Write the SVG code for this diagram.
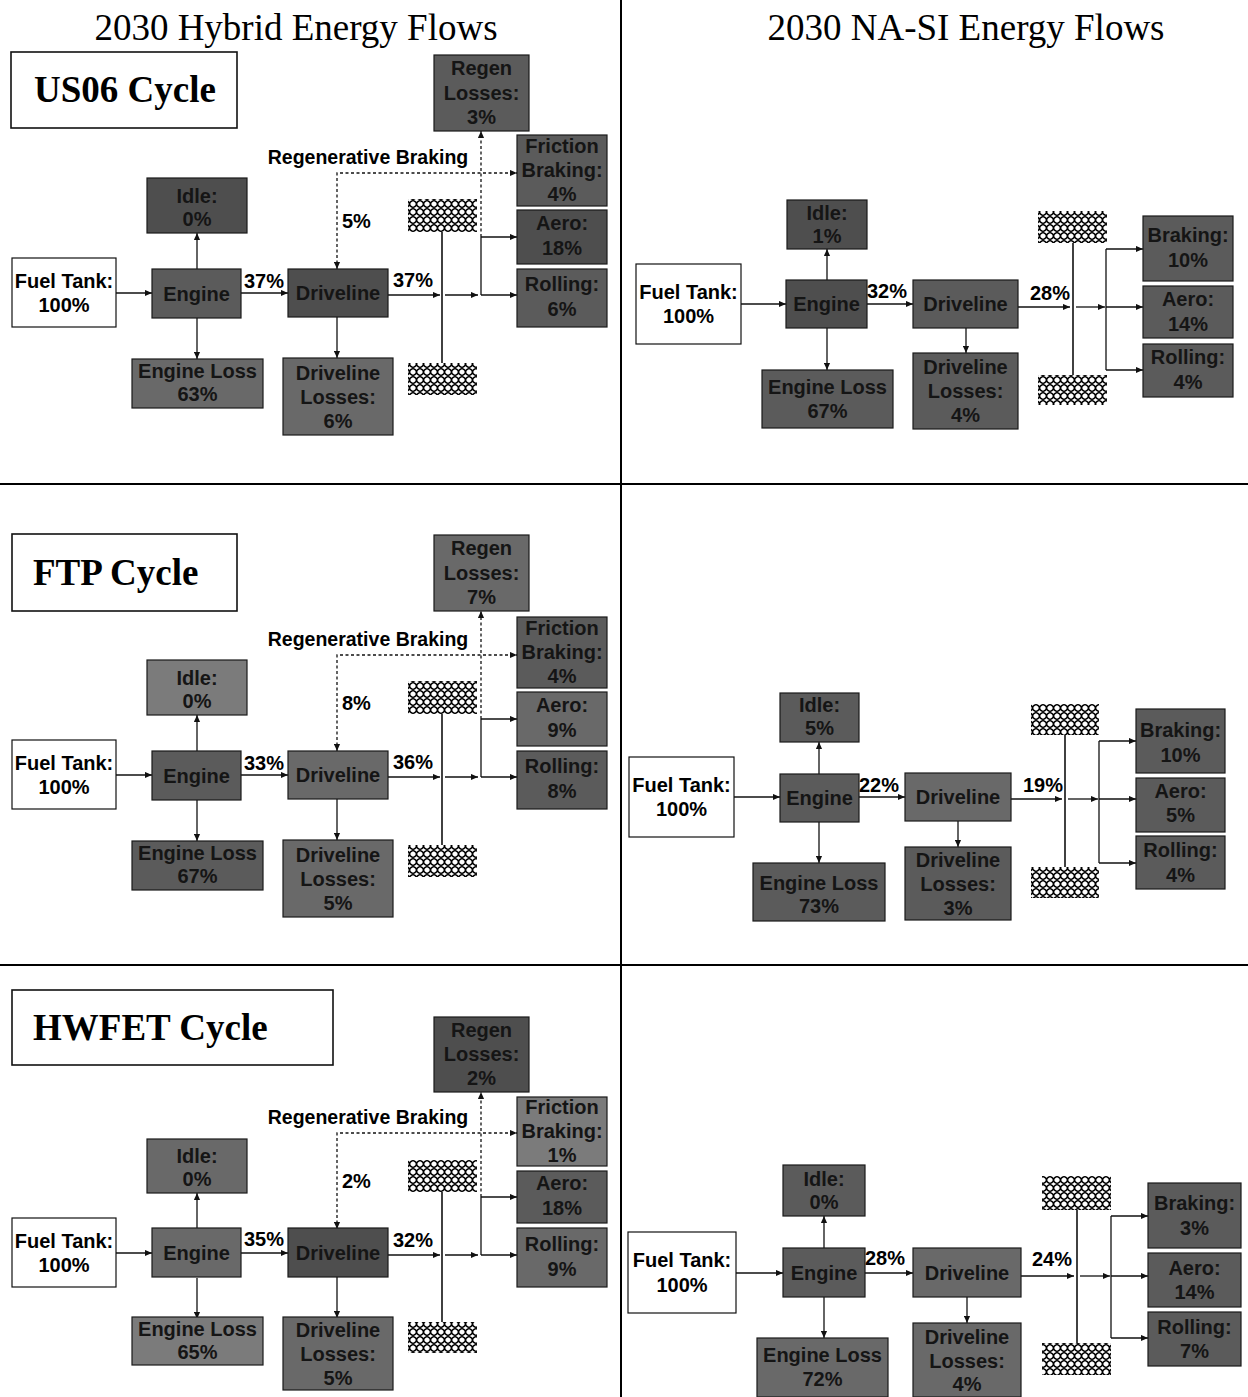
<svg xmlns="http://www.w3.org/2000/svg" width="1248" height="1397" viewBox="0 0 1248 1397">
<defs>
<style>
.title{font-family:"Liberation Serif","Times New Roman",serif;font-size:37px;fill:#000}
.cyc{font-family:"Liberation Serif","Times New Roman",serif;font-size:37px;font-weight:bold;fill:#000}
.cbox{fill:#fff;stroke:#111;stroke-width:1.6}
.wbox{fill:#fff;stroke:#111;stroke-width:1.2}
.b{stroke:#1a1a1a;stroke-width:1.2}
.g1{fill:#4e4e4e}.g2{fill:#5b5b5b}.g3{fill:#696969}.g4{fill:#7b7b7b}
.bt{font-family:"Liberation Sans",Arial,sans-serif;font-size:20px;font-weight:bold;fill:#151515;text-anchor:middle}
.lt{font-family:"Liberation Sans",Arial,sans-serif;font-size:20px;font-weight:bold;fill:#000;text-anchor:middle}
.rb{font-family:"Liberation Sans",Arial,sans-serif;font-size:19.5px;font-weight:bold;fill:#000;text-anchor:middle}
.ln{fill:none;stroke:#111;stroke-width:1.3}
.arr{marker-end:url(#ah)}
.dash{stroke-dasharray:3 2.5}
.ax{fill:none;stroke:#111;stroke-width:1.6}
.wheel{fill:url(#wave)}
.div{stroke:#000;stroke-width:2}
</style>
<marker id="ah" viewBox="0 0 8 8" refX="8" refY="4" markerWidth="7" markerHeight="7" markerUnits="userSpaceOnUse" orient="auto-start-reverse"><path d="M0,0.5 L8,4 L0,7.5z" fill="#111"/></marker>
<pattern id="wave" width="7" height="8" patternUnits="userSpaceOnUse">
<rect width="7" height="8" fill="#fff"/>
<path d="M0,0.5 Q3.5,2 3.5,4 T7,7.5 M7,0.5 Q3.5,2 3.5,4 T0,7.5" fill="none" stroke="#000" stroke-width="1.5"/>
</pattern>
</defs>
<rect width="1248" height="1397" fill="#fff"/>

<g id="dividers">
<line class="div" x1="621" y1="0" x2="621" y2="1397"/>
<line class="div" x1="0" y1="484" x2="1248" y2="484"/>
<line class="div" x1="0" y1="965" x2="1248" y2="965"/>
</g>

<g id="titles">
<text class="title" x="296" y="40" text-anchor="middle">2030 Hybrid Energy Flows</text>
<text class="title" x="966" y="40" text-anchor="middle">2030 NA-SI Energy Flows</text>
</g>

<g id="cycle-labels">
<g id="cyc-us06"><rect class="cbox" x="11" y="52" width="226" height="76"/><text class="cyc" x="34" y="102">US06 Cycle</text></g>
<g id="cyc-ftp"><rect class="cbox" x="12" y="534" width="225" height="77"/><text class="cyc" x="33" y="585">FTP Cycle</text></g>
<g id="cyc-hwfet"><rect class="cbox" x="12" y="990" width="321" height="75"/><text class="cyc" x="33" y="1040">HWFET Cycle</text></g>
</g>

<!-- ===== Hybrid US06 ===== -->
<g id="hyb-us06">
<g id="h1-connectors">
<path class="ln arr" d="M116,293 H152"/>
<path class="ln arr" d="M197,269 V233"/>
<path class="ln arr" d="M197,318 V359"/>
<path class="ln arr" d="M241,293 H288"/>
<path class="ln arr" d="M337,317 V358"/>
<path class="ln arr" d="M388,295 H440"/>
<path class="ax" d="M442,232 V363"/>
<path class="ln arr" d="M445,295 H478"/>
<path class="ln" d="M481,237 V295"/>
<path class="ln arr" d="M481,237 H517"/>
<path class="ln arr" d="M481,295 H517"/>
<path class="ln arr dash" d="M481,237 V131"/>
<path class="ln arr dash" d="M337,269 V173 H517" marker-start="url(#ah)"/>
</g>
<g id="h1-fuel"><rect class="wbox" x="12" y="258" width="104" height="69"/><text class="lt" x="64" y="288">Fuel Tank:</text><text class="lt" x="64" y="312">100%</text></g>
<g id="h1-idle"><rect class="b g1" x="147" y="178" width="100" height="55"/><text class="bt" x="197" y="203">Idle:</text><text class="bt" x="197" y="226">0%</text></g>
<g id="h1-engine"><rect class="b g2" x="152" y="269" width="89" height="49"/><text class="bt" x="196.5" y="301">Engine</text></g>
<g id="h1-eloss"><rect class="b g3" x="132" y="359" width="131" height="49"/><text class="bt" x="197.5" y="378">Engine Loss</text><text class="bt" x="197.5" y="401">63%</text></g>
<g id="h1-driveline"><rect class="b g1" x="288" y="269" width="100" height="48"/><text class="bt" x="338" y="300">Driveline</text></g>
<g id="h1-dloss"><rect class="b g3" x="283" y="358" width="110" height="77"/><text class="bt" x="338" y="380">Driveline</text><text class="bt" x="338" y="404">Losses:</text><text class="bt" x="338" y="428">6%</text></g>
<g id="h1-regen"><rect class="b g2" x="434" y="55" width="95" height="76"/><text class="bt" x="481.5" y="75">Regen</text><text class="bt" x="481.5" y="100">Losses:</text><text class="bt" x="481.5" y="124">3%</text></g>
<g id="h1-friction"><rect class="b g2" x="517" y="135" width="90" height="71"/><text class="bt" x="562" y="153">Friction</text><text class="bt" x="562" y="177">Braking:</text><text class="bt" x="562" y="201">4%</text></g>
<g id="h1-aero"><rect class="b g1" x="517" y="210" width="90" height="54"/><text class="bt" x="562" y="230">Aero:</text><text class="bt" x="562" y="255">18%</text></g>
<g id="h1-rolling"><rect class="b g2" x="517" y="269" width="90" height="58"/><text class="bt" x="562" y="291">Rolling:</text><text class="bt" x="562" y="316">6%</text></g>
<g id="h1-wheels"><rect class="wheel" x="408" y="199" width="69" height="33"/><rect class="wheel" x="408" y="363" width="69" height="32"/></g>
<g id="h1-labels"><text class="lt" x="264" y="288">37%</text><text class="lt" x="413" y="287">37%</text><text class="lt" x="342" y="228" style="text-anchor:start">5%</text><text class="rb" x="368" y="164">Regenerative Braking</text></g>
</g>

<!-- ===== Hybrid FTP ===== -->
<g id="hyb-ftp" transform="translate(0,482)">
<g id="h2-connectors">
<path class="ln arr" d="M116,293 H152"/>
<path class="ln arr" d="M197,269 V233"/>
<path class="ln arr" d="M197,318 V359"/>
<path class="ln arr" d="M241,293 H288"/>
<path class="ln arr" d="M337,317 V358"/>
<path class="ln arr" d="M388,295 H440"/>
<path class="ax" d="M442,232 V363"/>
<path class="ln arr" d="M445,295 H478"/>
<path class="ln" d="M481,237 V295"/>
<path class="ln arr" d="M481,237 H517"/>
<path class="ln arr" d="M481,295 H517"/>
<path class="ln arr dash" d="M481,237 V129"/>
<path class="ln arr dash" d="M337,269 V173 H517" marker-start="url(#ah)"/>
</g>
<g id="h2-fuel"><rect class="wbox" x="12" y="258" width="104" height="69"/><text class="lt" x="64" y="288">Fuel Tank:</text><text class="lt" x="64" y="312">100%</text></g>
<g id="h2-idle"><rect class="b g4" x="147" y="178" width="100" height="55"/><text class="bt" x="197" y="203">Idle:</text><text class="bt" x="197" y="226">0%</text></g>
<g id="h2-engine"><rect class="b g2" x="152" y="269" width="89" height="49"/><text class="bt" x="196.5" y="301">Engine</text></g>
<g id="h2-eloss"><rect class="b g2" x="132" y="359" width="131" height="49"/><text class="bt" x="197.5" y="378">Engine Loss</text><text class="bt" x="197.5" y="401">67%</text></g>
<g id="h2-driveline"><rect class="b g3" x="288" y="269" width="100" height="48"/><text class="bt" x="338" y="300">Driveline</text></g>
<g id="h2-dloss"><rect class="b g3" x="283" y="358" width="110" height="77"/><text class="bt" x="338" y="380">Driveline</text><text class="bt" x="338" y="404">Losses:</text><text class="bt" x="338" y="428">5%</text></g>
<g id="h2-regen"><rect class="b g3" x="434" y="53" width="95" height="76"/><text class="bt" x="481.5" y="73">Regen</text><text class="bt" x="481.5" y="98">Losses:</text><text class="bt" x="481.5" y="122">7%</text></g>
<g id="h2-friction"><rect class="b g2" x="517" y="135" width="90" height="71"/><text class="bt" x="562" y="153">Friction</text><text class="bt" x="562" y="177">Braking:</text><text class="bt" x="562" y="201">4%</text></g>
<g id="h2-aero"><rect class="b g3" x="517" y="210" width="90" height="54"/><text class="bt" x="562" y="230">Aero:</text><text class="bt" x="562" y="255">9%</text></g>
<g id="h2-rolling"><rect class="b g2" x="517" y="269" width="90" height="58"/><text class="bt" x="562" y="291">Rolling:</text><text class="bt" x="562" y="316">8%</text></g>
<g id="h2-wheels"><rect class="wheel" x="408" y="199" width="69" height="33"/><rect class="wheel" x="408" y="363" width="69" height="32"/></g>
<g id="h2-labels"><text class="lt" x="264" y="288">33%</text><text class="lt" x="413" y="287">36%</text><text class="lt" x="342" y="228" style="text-anchor:start">8%</text><text class="rb" x="368" y="164">Regenerative Braking</text></g>
</g>

<!-- ===== Hybrid HWFET ===== -->
<g id="hyb-hwfet" transform="translate(0,960)">
<g id="h3-connectors">
<path class="ln arr" d="M116,293 H152"/>
<path class="ln arr" d="M197,269 V233"/>
<path class="ln arr" d="M197,318 V359"/>
<path class="ln arr" d="M241,293 H288"/>
<path class="ln arr" d="M337,317 V358"/>
<path class="ln arr" d="M388,295 H440"/>
<path class="ax" d="M442,232 V363"/>
<path class="ln arr" d="M445,295 H478"/>
<path class="ln" d="M481,237 V295"/>
<path class="ln arr" d="M481,237 H517"/>
<path class="ln arr" d="M481,295 H517"/>
<path class="ln arr dash" d="M481,237 V132"/>
<path class="ln arr dash" d="M337,269 V173 H517" marker-start="url(#ah)"/>
</g>
<g id="h3-fuel"><rect class="wbox" x="12" y="258" width="104" height="69"/><text class="lt" x="64" y="288">Fuel Tank:</text><text class="lt" x="64" y="312">100%</text></g>
<g id="h3-idle"><rect class="b g3" x="147" y="179" width="100" height="54"/><text class="bt" x="197" y="203">Idle:</text><text class="bt" x="197" y="226">0%</text></g>
<g id="h3-engine"><rect class="b g3" x="152" y="268" width="89" height="49"/><text class="bt" x="196.5" y="300">Engine</text></g>
<g id="h3-eloss"><rect class="b g4" x="132" y="357" width="131" height="48"/><text class="bt" x="197.5" y="376">Engine Loss</text><text class="bt" x="197.5" y="399">65%</text></g>
<g id="h3-driveline"><rect class="b g1" x="288" y="268" width="100" height="49"/><text class="bt" x="338" y="300">Driveline</text></g>
<g id="h3-dloss"><rect class="b g3" x="283" y="357" width="110" height="73"/><text class="bt" x="338" y="377">Driveline</text><text class="bt" x="338" y="401">Losses:</text><text class="bt" x="338" y="425">5%</text></g>
<g id="h3-regen"><rect class="b g1" x="434" y="57" width="95" height="75"/><text class="bt" x="481.5" y="77">Regen</text><text class="bt" x="481.5" y="101">Losses:</text><text class="bt" x="481.5" y="125">2%</text></g>
<g id="h3-friction"><rect class="b g4" x="517" y="137" width="90" height="69"/><text class="bt" x="562" y="154">Friction</text><text class="bt" x="562" y="178">Braking:</text><text class="bt" x="562" y="202">1%</text></g>
<g id="h3-aero"><rect class="b g2" x="517" y="211" width="90" height="52"/><text class="bt" x="562" y="230">Aero:</text><text class="bt" x="562" y="255">18%</text></g>
<g id="h3-rolling"><rect class="b g3" x="517" y="268" width="90" height="59"/><text class="bt" x="562" y="291">Rolling:</text><text class="bt" x="562" y="316">9%</text></g>
<g id="h3-wheels"><rect class="wheel" x="408" y="200" width="69" height="32"/><rect class="wheel" x="408" y="362" width="69" height="31"/></g>
<g id="h3-labels"><text class="lt" x="264" y="286">35%</text><text class="lt" x="413" y="287">32%</text><text class="lt" x="342" y="228" style="text-anchor:start">2%</text><text class="rb" x="368" y="164">Regenerative Braking</text></g>
</g>

<!-- ===== NA-SI US06 ===== -->
<g id="nasi-us06">
<g id="n1-connectors">
<path class="ln arr" d="M741,304 H786"/>
<path class="ln arr" d="M827,280 V249"/>
<path class="ln arr" d="M827,328 V370"/>
<path class="ln arr" d="M867,304 H913"/>
<path class="ln arr" d="M966,328 V353"/>
<path class="ln arr" d="M1018,307 H1070"/>
<path class="ax" d="M1073,243 V375"/>
<path class="ln arr" d="M1076,307 H1105"/>
<path class="ln" d="M1106,249 V370"/>
<path class="ln arr" d="M1106,249 H1143"/>
<path class="ln arr" d="M1106,307 H1143"/>
<path class="ln arr" d="M1106,370 H1143"/>
</g>
<g id="n1-fuel"><rect class="wbox" x="636" y="264" width="105" height="80"/><text class="lt" x="688.5" y="299">Fuel Tank:</text><text class="lt" x="688.5" y="323">100%</text></g>
<g id="n1-idle"><rect class="b g1" x="787" y="200" width="80" height="49"/><text class="bt" x="827" y="220">Idle:</text><text class="bt" x="827" y="243">1%</text></g>
<g id="n1-engine"><rect class="b g1" x="786" y="280" width="81" height="48"/><text class="bt" x="826.5" y="311">Engine</text></g>
<g id="n1-eloss"><rect class="b g2" x="762" y="370" width="131" height="58"/><text class="bt" x="827.5" y="394">Engine Loss</text><text class="bt" x="827.5" y="418">67%</text></g>
<g id="n1-driveline"><rect class="b g2" x="913" y="280" width="105" height="48"/><text class="bt" x="965.5" y="311">Driveline</text></g>
<g id="n1-dloss"><rect class="b g2" x="913" y="353" width="105" height="76"/><text class="bt" x="965.5" y="374">Driveline</text><text class="bt" x="965.5" y="398">Losses:</text><text class="bt" x="965.5" y="422">4%</text></g>
<g id="n1-braking"><rect class="b g2" x="1143" y="216" width="90" height="65"/><text class="bt" x="1188" y="242">Braking:</text><text class="bt" x="1188" y="267">10%</text></g>
<g id="n1-aero"><rect class="b g2" x="1143" y="286" width="90" height="52"/><text class="bt" x="1188" y="306">Aero:</text><text class="bt" x="1188" y="331">14%</text></g>
<g id="n1-rolling"><rect class="b g2" x="1143" y="344" width="90" height="53"/><text class="bt" x="1188" y="364">Rolling:</text><text class="bt" x="1188" y="389">4%</text></g>
<g id="n1-wheels"><rect class="wheel" x="1038" y="211" width="69" height="32"/><rect class="wheel" x="1038" y="375" width="69" height="30"/></g>
<g id="n1-labels"><text class="lt" x="887" y="298">32%</text><text class="lt" x="1050" y="300">28%</text></g>
</g>

<!-- ===== NA-SI FTP ===== -->
<g id="nasi-ftp">
<g id="n2-connectors">
<path class="ln arr" d="M734,797 H780"/>
<path class="ln arr" d="M819,774 V742"/>
<path class="ln arr" d="M819,822 V863"/>
<path class="ln arr" d="M859,797 H905"/>
<path class="ln arr" d="M958,821 V847"/>
<path class="ln arr" d="M1011,799 H1062"/>
<path class="ax" d="M1065,735 V870"/>
<path class="ln arr" d="M1068,799 H1098"/>
<path class="ln" d="M1099,741 V863"/>
<path class="ln arr" d="M1099,741 H1136"/>
<path class="ln arr" d="M1099,799 H1136"/>
<path class="ln arr" d="M1099,863 H1136"/>
</g>
<g id="n2-fuel"><rect class="wbox" x="629" y="757" width="105" height="80"/><text class="lt" x="681.5" y="792">Fuel Tank:</text><text class="lt" x="681.5" y="816">100%</text></g>
<g id="n2-idle"><rect class="b g2" x="780" y="693" width="79" height="49"/><text class="bt" x="819.5" y="712">Idle:</text><text class="bt" x="819.5" y="735">5%</text></g>
<g id="n2-engine"><rect class="b g2" x="780" y="774" width="79" height="48"/><text class="bt" x="819.5" y="805">Engine</text></g>
<g id="n2-eloss"><rect class="b g2" x="753" y="863" width="132" height="58"/><text class="bt" x="819" y="890">Engine Loss</text><text class="bt" x="819" y="913">73%</text></g>
<g id="n2-driveline"><rect class="b g3" x="905" y="773" width="106" height="48"/><text class="bt" x="958" y="804">Driveline</text></g>
<g id="n2-dloss"><rect class="b g2" x="905" y="847" width="106" height="73"/><text class="bt" x="958" y="867">Driveline</text><text class="bt" x="958" y="891">Losses:</text><text class="bt" x="958" y="915">3%</text></g>
<g id="n2-braking"><rect class="b g2" x="1136" y="709" width="89" height="64"/><text class="bt" x="1180.5" y="737">Braking:</text><text class="bt" x="1180.5" y="762">10%</text></g>
<g id="n2-aero"><rect class="b g2" x="1136" y="778" width="89" height="54"/><text class="bt" x="1180.5" y="798">Aero:</text><text class="bt" x="1180.5" y="822">5%</text></g>
<g id="n2-rolling"><rect class="b g2" x="1136" y="836" width="89" height="53"/><text class="bt" x="1180.5" y="857">Rolling:</text><text class="bt" x="1180.5" y="882">4%</text></g>
<g id="n2-wheels"><rect class="wheel" x="1031" y="704" width="68" height="31"/><rect class="wheel" x="1031" y="867" width="68" height="31"/></g>
<g id="n2-labels"><text class="lt" x="879" y="792">22%</text><text class="lt" x="1043" y="792">19%</text></g>
</g>

<!-- ===== NA-SI HWFET ===== -->
<g id="nasi-hwfet">
<g id="n3-connectors">
<path class="ln arr" d="M736,1273 H783"/>
<path class="ln arr" d="M824,1248 V1216"/>
<path class="ln arr" d="M824,1297 V1338"/>
<path class="ln arr" d="M865,1273 H913"/>
<path class="ln arr" d="M967,1297 V1323"/>
<path class="ln arr" d="M1021,1276 H1074"/>
<path class="ax" d="M1077,1210 V1343"/>
<path class="ln arr" d="M1080,1276 H1110"/>
<path class="ln" d="M1111,1216 V1338"/>
<path class="ln arr" d="M1111,1216 H1148"/>
<path class="ln arr" d="M1111,1276 H1148"/>
<path class="ln arr" d="M1111,1338 H1148"/>
</g>
<g id="n3-fuel"><rect class="wbox" x="628" y="1232" width="108" height="81"/><text class="lt" x="682" y="1267">Fuel Tank:</text><text class="lt" x="682" y="1292">100%</text></g>
<g id="n3-idle"><rect class="b g2" x="783" y="1165" width="82" height="51"/><text class="bt" x="824" y="1186">Idle:</text><text class="bt" x="824" y="1209">0%</text></g>
<g id="n3-engine"><rect class="b g2" x="783" y="1248" width="82" height="49"/><text class="bt" x="824" y="1280">Engine</text></g>
<g id="n3-eloss"><rect class="b g3" x="757" y="1338" width="131" height="59"/><text class="bt" x="822.5" y="1362">Engine Loss</text><text class="bt" x="822.5" y="1386">72%</text></g>
<g id="n3-driveline"><rect class="b g3" x="913" y="1248" width="108" height="49"/><text class="bt" x="967" y="1280">Driveline</text></g>
<g id="n3-dloss"><rect class="b g3" x="913" y="1323" width="108" height="74"/><text class="bt" x="967" y="1344">Driveline</text><text class="bt" x="967" y="1368">Losses:</text><text class="bt" x="967" y="1391">4%</text></g>
<g id="n3-braking"><rect class="b g2" x="1148" y="1183" width="93" height="65"/><text class="bt" x="1194.5" y="1210">Braking:</text><text class="bt" x="1194.5" y="1235">3%</text></g>
<g id="n3-aero"><rect class="b g2" x="1148" y="1253" width="93" height="54"/><text class="bt" x="1194.5" y="1275">Aero:</text><text class="bt" x="1194.5" y="1299">14%</text></g>
<g id="n3-rolling"><rect class="b g2" x="1148" y="1312" width="93" height="54"/><text class="bt" x="1194.5" y="1334">Rolling:</text><text class="bt" x="1194.5" y="1358">7%</text></g>
<g id="n3-wheels"><rect class="wheel" x="1042" y="1176" width="69" height="34"/><rect class="wheel" x="1042" y="1343" width="69" height="32"/></g>
<g id="n3-labels"><text class="lt" x="885" y="1265">28%</text><text class="lt" x="1052" y="1266">24%</text></g>
</g>
</svg>
